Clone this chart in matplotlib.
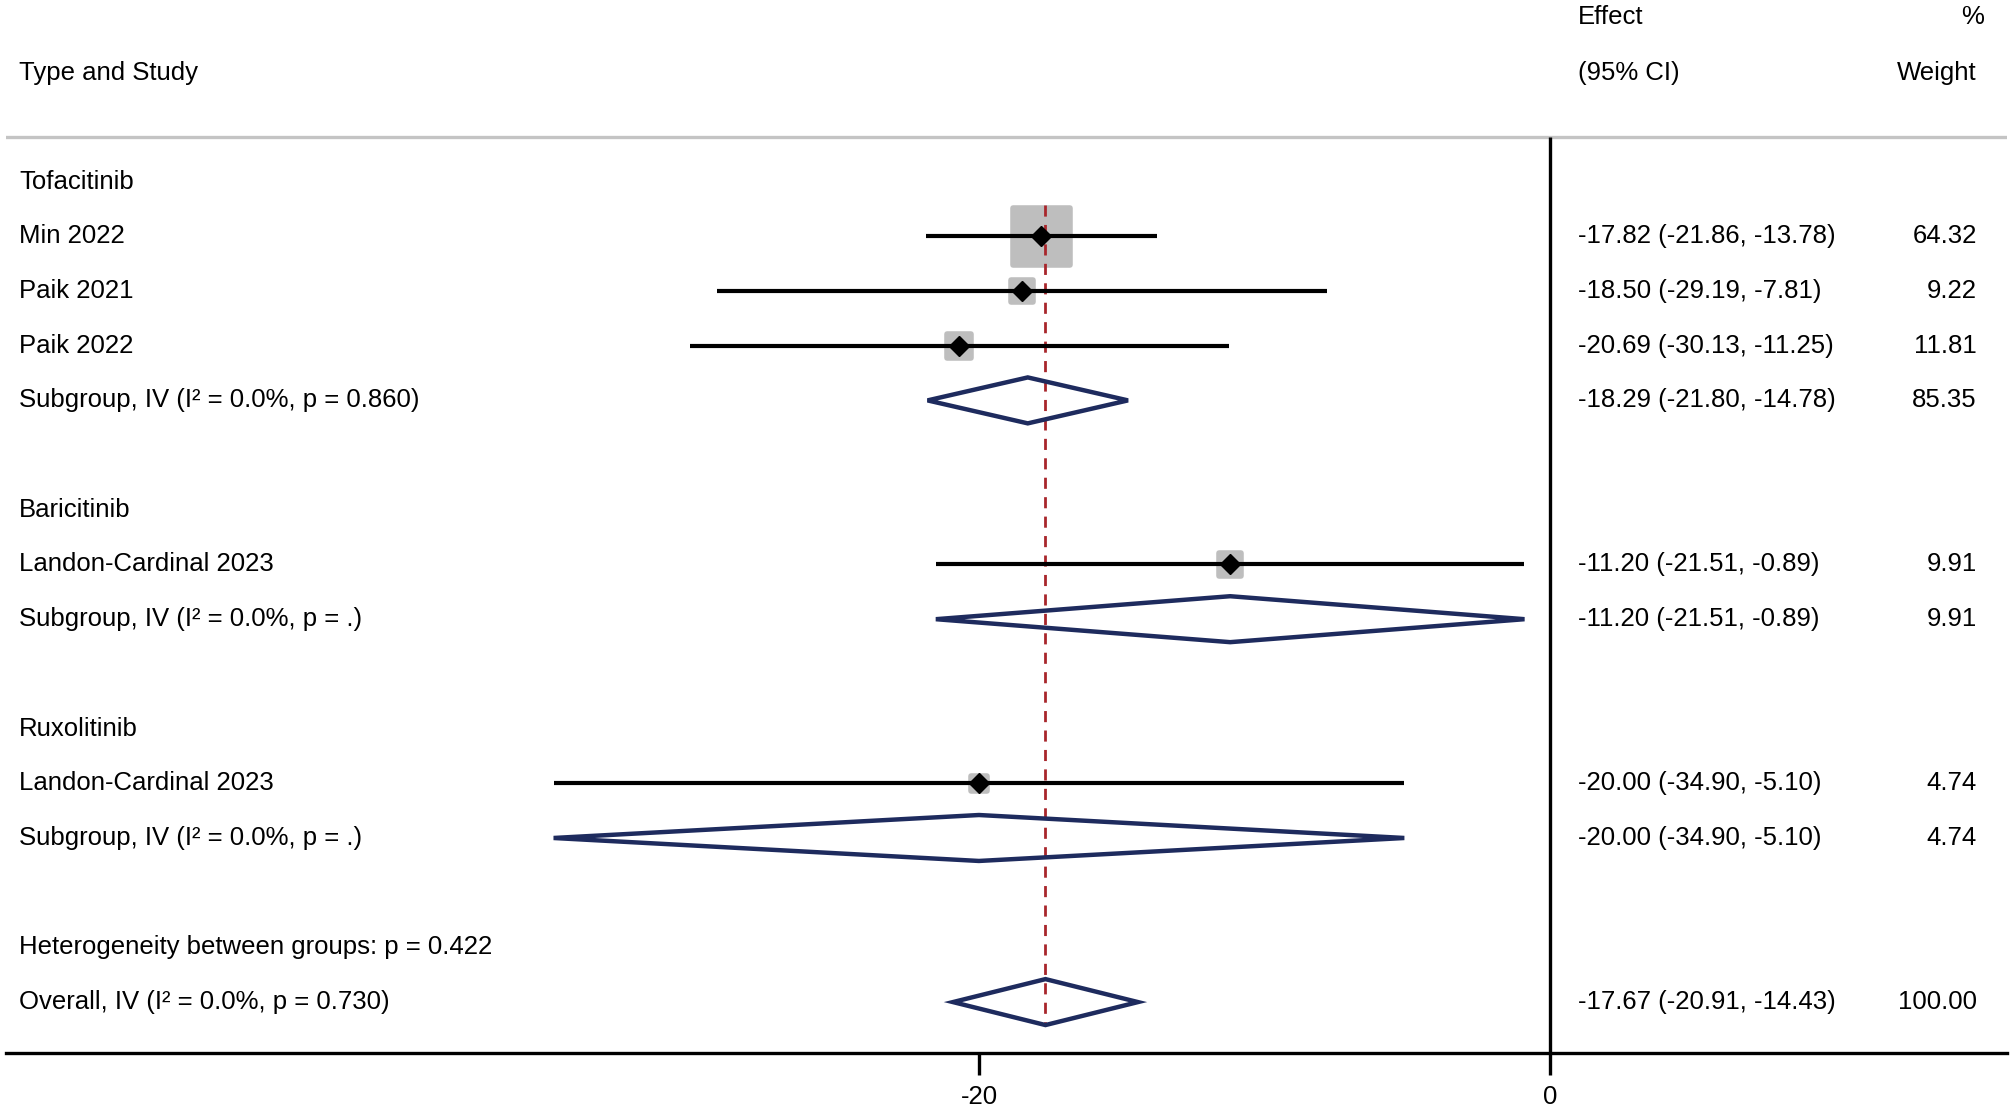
import numpy as np
import matplotlib
matplotlib.use("Agg")
import matplotlib.pyplot as plt
from matplotlib.patches import Polygon

plt.rcParams['font.family'] = ['Liberation Sans', 'DejaVu Sans']

# Donnees
groups = ["Tofacitinib", "Baricitinib", "Ruxolitinib"]
study_names = ["Min 2022", "Paik 2021", "Paik 2022", "Landon-Cardinal 2023", "Landon-Cardinal 2023"]
study_group = [0, 0, 0, 1, 2]
study_est = [-17.82, -18.50, -20.69, -11.20, -20.00]
study_lo = [-21.86, -29.19, -30.13, -21.51, -34.90]
study_hi = [-13.78, -7.81, -11.25, -0.89, -5.10]
study_wt = [64.32, 9.22, 11.81, 9.91, 4.74]

sub_est = [-18.29, -11.20, -20.00]
sub_lo = [-21.80, -21.51, -34.90]
sub_hi = [-14.78, -0.89, -5.10]
sub_wt = [85.35, 9.91, 4.74]
sub_p = ["0.860", ".", "."]

overall_est = -17.67
overall_lo = -20.91
overall_hi = -14.43
overall_wt = 100.00
overall_p = "0.730"
het_p = "0.422"

xticks = [-20, 0]

# Figure
fig = plt.figure(figsize=(20.14, 11.14), dpi=100)
ax = fig.add_axes([0.003, 0.0548, 0.9935, 0.9452])
ax.set_xlim(-54.08, 16.01)
ax.set_ylim(15.93, -3.32)

FS = 18.5
XL = 0.0065
navy = '#1e2b5e'
trans = ax.get_yaxis_transform()

def texte_droite(row, est, lo, hi, wt):
    ax.text(0.7856, row, f"{est:.2f} ({lo:.2f}, {hi:.2f})", transform=trans,
            fontsize=FS, va='center', ha='left')
    ax.text(0.985, row, f"{wt:.2f}", transform=trans, fontsize=FS, va='center', ha='right')

def losange(row, est, lo, hi):
    h = 0.42
    p = Polygon([[lo, row], [est, row - h], [hi, row], [est, row + h]], closed=True,
                fill=False, edgecolor=navy, linewidth=3.2, joinstyle='miter', zorder=5)
    ax.add_patch(p)

# lignes des etudes
row = 0
study_rows = []
for g, gname in enumerate(groups):
    ax.text(XL, row, gname, transform=trans, fontsize=FS, va='center', ha='left')
    row += 1
    for i in range(len(study_names)):
        if study_group[i] == g:
            study_rows.append(row)
            ax.text(XL, row, study_names[i], transform=trans, fontsize=FS, va='center', ha='left')
            texte_droite(row, study_est[i], study_lo[i], study_hi[i], study_wt[i])
            row += 1
    ax.text(XL, row, f"Subgroup, IV (I\u00b2 = 0.0%, p = {sub_p[g]})", transform=trans,
            fontsize=FS, va='center', ha='left')
    texte_droite(row, sub_est[g], sub_lo[g], sub_hi[g], sub_wt[g])
    losange(row, sub_est[g], sub_lo[g], sub_hi[g])
    row += 2

het_row = row
ax.text(XL, het_row, f"Heterogeneity between groups: p = {het_p}", transform=trans,
        fontsize=FS, va='center', ha='left')
ov_row = row + 1
ax.text(XL, ov_row, f"Overall, IV (I\u00b2 = 0.0%, p = {overall_p})", transform=trans,
        fontsize=FS, va='center', ha='left')
texte_droite(ov_row, overall_est, overall_lo, overall_hi, overall_wt)
losange(ov_row, overall_est, overall_lo, overall_hi)

study_rows = np.array(study_rows)
ax.scatter(study_est, study_rows, s=np.array(study_wt) * 26, marker='s', color='#bebebe',
           edgecolors='#bebebe', linewidths=4, zorder=2)
ax.vlines(overall_est, 0.43, ov_row + 0.42, colors='#a8262b', linestyles=(0, (4, 3)),
          linewidth=2, zorder=3)
ax.hlines(study_rows, study_lo, study_hi, colors='black', linewidth=3, zorder=4)
ax.plot(study_est, study_rows, linestyle='none', marker='D', markersize=10, color='black', zorder=4)

# en-tetes
ax.text(XL, -1.98, "Type and Study", transform=trans, fontsize=FS, va='center', ha='left')
ax.text(0.7856, -3.01, "Effect", transform=trans, fontsize=FS, va='center', ha='left')
ax.text(0.7856, -1.98, "(95% CI)", transform=trans, fontsize=FS, va='center', ha='left')
ax.text(0.9885, -3.01, "%", transform=trans, fontsize=FS, va='center', ha='right')
ax.text(0.985, -1.98, "Weight", transform=trans, fontsize=FS, va='center', ha='right')

ax.axhline(-0.82, color='#c4c4c4', linewidth=2.4, zorder=1)
ax.vlines(0, -0.82, 15.93, colors='black', linewidth=2.4, zorder=1, clip_on=False)

# axe
for s in ['top', 'left', 'right']:
    ax.spines[s].set_visible(False)
ax.spines['bottom'].set_linewidth(2.4)
ax.set_yticks([])
ax.set_xticks(xticks)
ax.set_xticklabels([str(t) for t in xticks])
ax.tick_params(axis='x', direction='out', length=16, width=2.4, labelsize=FS, pad=7)

fig.savefig("out.png", dpi=100)
